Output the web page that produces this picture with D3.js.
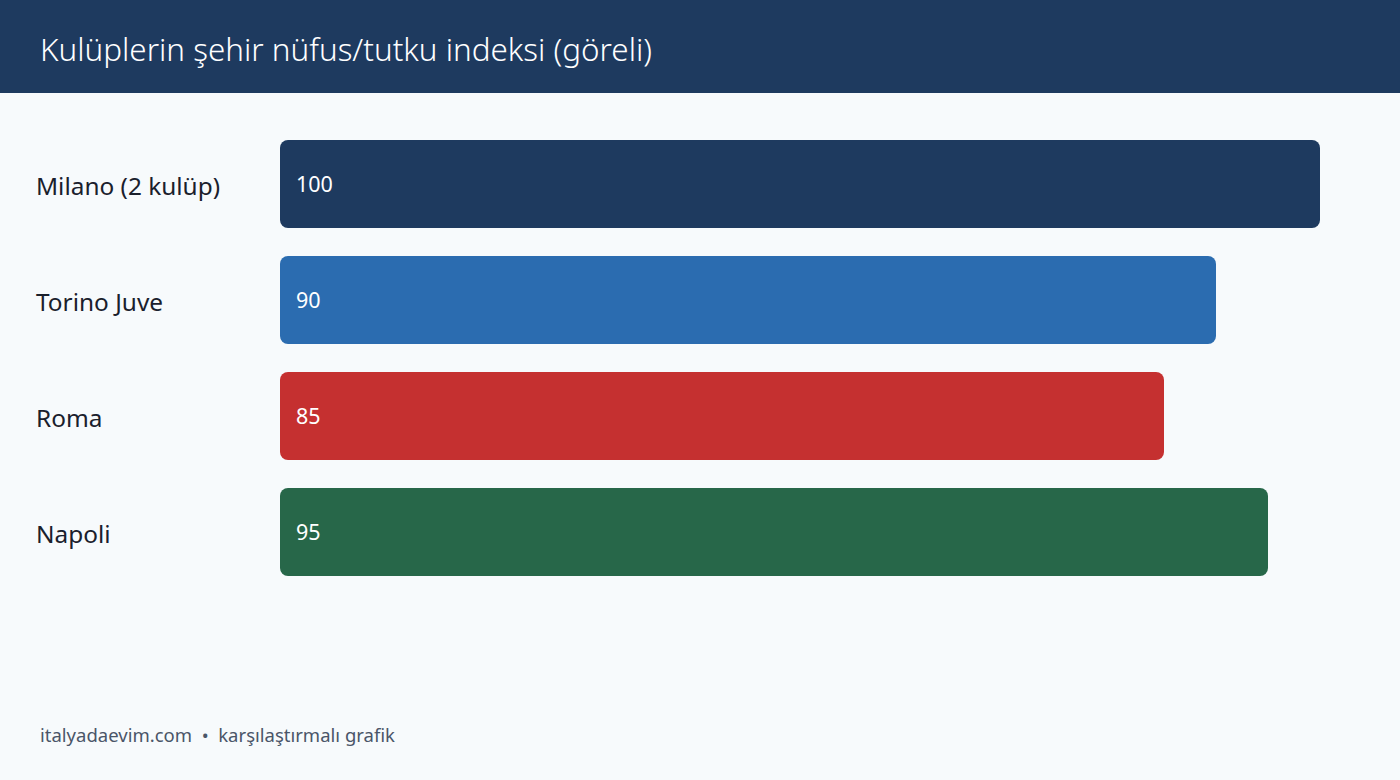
<!DOCTYPE html>
<html>
<head>
<meta charset="utf-8">
<script src="https://cdn.jsdelivr.net/npm/d3@7"></script>
<style>
  html, body { margin: 0; padding: 0; background: #f7fafc; }
  svg { display: block; font-family: "Segoe UI", "Noto Sans", sans-serif; }
</style>
</head>
<body>
<svg id="chart" width="1400" height="780"></svg>
<script>
const categories = ['Milano (2 kulüp)', 'Torino Juve', 'Roma', 'Napoli'];
const values = [100, 90, 85, 95];
const colors = ['#1e3a5f', '#2b6cb0', '#c53030', '#276749'];
const title = 'Kulüplerin şehir nüfus/tutku indeksi (göreli)';
const footer = 'italyadaevim.com  •  karşılaştırmalı grafik';

const svg = d3.select('#chart');
const W = 1400, H = 780;

svg.append('rect').attr('width', W).attr('height', H).attr('fill', '#f7fafc');

// header band
svg.append('rect').attr('width', W).attr('height', 93).attr('fill', '#1e3a5f');
svg.append('text')
    .attr('x', 40).attr('y', 53)
    .attr('dominant-baseline', 'middle')
    .attr('fill', '#ffffff')
    .attr('font-size', 31.4)
    .attr('font-weight', 300)
    .text(title);

const x = d3.scaleLinear().domain([0, 100]).range([280, 1320]);
const y = d3.scaleBand().domain(categories).range([126, 590]).paddingInner(0.2414).paddingOuter(0.1207);

const rows = svg.append('g').selectAll('g')
    .data(categories.map((c, i) => ({ name: c, value: values[i], color: colors[i] })))
    .join('g');

rows.append('rect')
    .attr('x', x(0))
    .attr('y', d => y(d.name))
    .attr('width', d => x(d.value) - x(0))
    .attr('height', y.bandwidth())
    .attr('rx', 8).attr('ry', 8)
    .attr('fill', d => d.color);

rows.append('text')
    .attr('x', 36)
    .attr('y', d => y(d.name) + y.bandwidth() / 2 + 4)
    .attr('dominant-baseline', 'middle')
    .attr('fill', '#1a202c')
    .attr('font-size', 24.4)
    .text(d => d.name);

rows.append('text')
    .attr('x', x(0) + 16)
    .attr('y', d => y(d.name) + y.bandwidth() / 2 + 2)
    .attr('dominant-baseline', 'middle')
    .attr('fill', '#ffffff')
    .attr('font-size', 21.5)
    .text(d => d.value);

svg.append('text')
    .attr('x', 40).attr('y', 737)
    .attr('dominant-baseline', 'middle')
    .attr('fill', '#4a5568')
    .attr('font-size', 18.5)
    .attr('xml:space', 'preserve')
    .style('white-space', 'pre')
    .text(footer);
</script>
</body>
</html>
